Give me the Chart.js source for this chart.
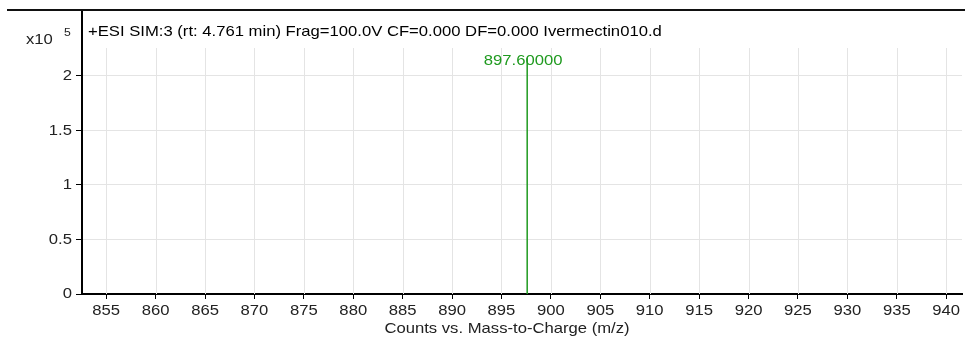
<!DOCTYPE html>
<html>
<head>
<meta charset="utf-8">
<script src="https://cdn.jsdelivr.net/npm/chart.js@4"></script>
<style>
  html, body { margin: 0; padding: 0; background: #fff; }
  #wrap { position: relative; width: 965px; height: 343px; }
</style>
</head>
<body>
<div id="wrap"><canvas id="spec" width="965" height="343"></canvas></div>
<script>
// spectrum data (counts in units of 1e5)
const peakMz = [897.6];
const peakCounts = [2.16];
const peakLabels = ['897.60000'];
const xTicks = [855, 860, 865, 870, 875, 880, 885, 890, 895, 900, 905, 910, 915, 920, 925, 930, 935, 940];
const yTicks = [0, 0.5, 1, 1.5, 2];
const titleText = '+ESI SIM:3 (rt: 4.761 min) Frag=100.0V CF=0.000 DF=0.000 Ivermectin010.d';
const xTitle = 'Counts vs. Mass-to-Charge (m/z)';

const FONT = '"Liberation Sans", Arial, sans-serif';
const GREEN = '#1f9a1f';
const SX = 1.11; // the source text is a little wider than Arial

// one stick per peak: baseline -> top
const stickData = [];
peakMz.forEach((mz, i) => {
    stickData.push({ x: mz, y: 0 });
    stickData.push({ x: mz, y: peakCounts[i] });
    stickData.push({ x: NaN, y: NaN });
});

function wideText(ctx, text, x, y, align) {
    ctx.save();
    ctx.translate(x, y);
    ctx.scale(SX, 1);
    ctx.textAlign = align;
    ctx.fillText(text, 0, 0);
    ctx.restore();
}

const decorPlugin = {
    id: 'decor',
    beforeDatasetsDraw(chart) {
        const ctx = chart.ctx;
        const xs = chart.scales.x;
        const area = chart.chartArea;
        // vertical grid lines (start below the title row)
        ctx.save();
        ctx.strokeStyle = '#e4e4e4';
        ctx.lineWidth = 1;
        xTicks.forEach(t => {
            const px = Math.round(xs.getPixelForValue(t)) + 0.5;
            ctx.beginPath();
            ctx.moveTo(px, 48);
            ctx.lineTo(px, area.bottom);
            ctx.stroke();
        });
        ctx.restore();
    },
    afterDraw(chart) {
        const ctx = chart.ctx;
        const xs = chart.scales.x;
        const ys = chart.scales.y;
        const area = chart.chartArea;
        ctx.save();
        // top frame line
        ctx.fillStyle = '#111';
        ctx.fillRect(7, 9, chart.width - 7, 2);
        ctx.textBaseline = 'middle';
        // title
        ctx.fillStyle = '#000';
        ctx.font = '15px ' + FONT;
        wideText(ctx, titleText, 88, 32, 'left');
        // tick labels
        ctx.fillStyle = '#222';
        xTicks.forEach(t => wideText(ctx, String(t), xs.getPixelForValue(t), area.bottom + 17, 'center'));
        yTicks.forEach(t => wideText(ctx, String(t), area.left - 10, ys.getPixelForValue(t), 'right'));
        // axis title
        wideText(ctx, xTitle, (area.left + area.right) / 2 - 15, 329, 'center');
        // exponent
        wideText(ctx, 'x10', 26, 40, 'left');
        ctx.font = '11px ' + FONT;
        wideText(ctx, '5', 64, 33, 'left');
        // peak labels
        ctx.fillStyle = GREEN;
        ctx.font = '15px ' + FONT;
        peakMz.forEach((mz, i) => {
            wideText(ctx, peakLabels[i], xs.getPixelForValue(mz) - 4, ys.getPixelForValue(peakCounts[i]) + 2, 'center');
        });
        ctx.restore();
    }
};

new Chart(document.getElementById('spec'), {
    type: 'scatter',
    data: {
        datasets: [{
            data: stickData,
            showLine: true,
            spanGaps: false,
            borderColor: GREEN,
            borderWidth: 1.5,
            pointRadius: 0,
            fill: false
        }]
    },
    options: {
        responsive: false,
        animation: false,
        layout: { padding: { top: 12, right: 3, left: 0, bottom: 0 } },
        plugins: {
            legend: { display: false },
            tooltip: { enabled: false }
        },
        scales: {
            x: {
                type: 'linear',
                min: 852.55,
                max: 941.6,
                afterBuildTicks: s => { s.ticks = xTicks.map(v => ({ value: v })); },
                afterFit: s => { s.height = 49; },
                border: { color: '#000', width: 2 },
                grid: { drawOnChartArea: false, drawTicks: true, tickLength: 5, tickColor: '#000' },
                ticks: { display: false }
            },
            y: {
                type: 'linear',
                min: 0,
                max: 2.585,
                afterBuildTicks: s => { s.ticks = yTicks.map(v => ({ value: v })); },
                afterFit: s => { s.width = 82; },
                border: { color: '#000', width: 2 },
                grid: { color: '#e4e4e4', drawTicks: true, tickLength: 6, tickColor: '#000' },
                ticks: { display: false }
            }
        }
    },
    plugins: [decorPlugin]
});
</script>
</body>
</html>
